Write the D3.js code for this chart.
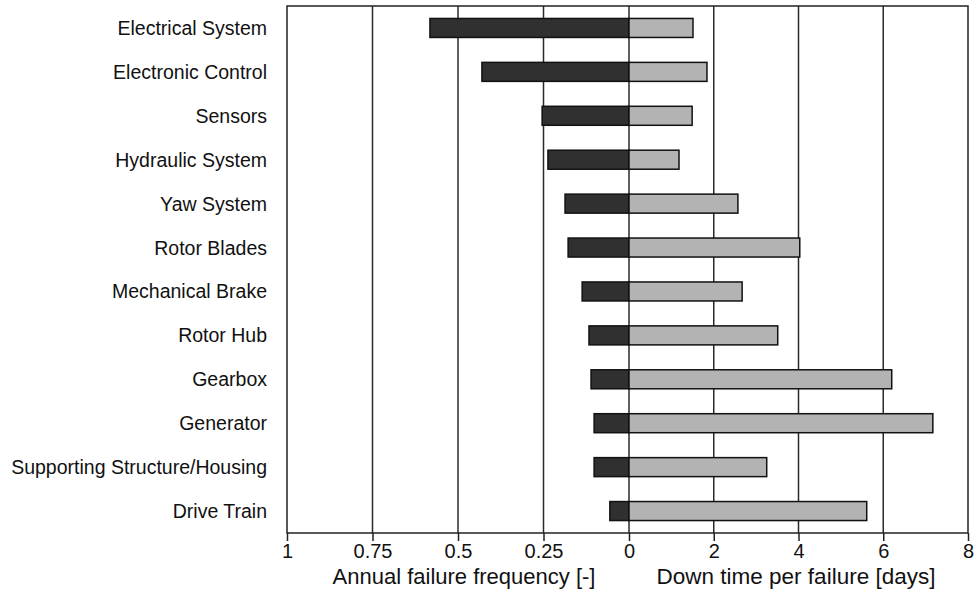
<!DOCTYPE html>
<html>
<head>
<meta charset="utf-8">
<script src="https://cdn.jsdelivr.net/npm/d3@7"></script>
<style>
  body { margin: 0; background: #fff; }
  text { font-family: "Liberation Sans", Arial, sans-serif; fill: #111; }
</style>
</head>
<body>
<svg width="975" height="595"></svg>
<script>
// components, top to bottom
let components = ['Electrical System', 'Electronic Control', 'Sensors', 'Hydraulic System',
    'Yaw System', 'Rotor Blades', 'Mechanical Brake', 'Rotor Hub', 'Gearbox', 'Generator',
    'Supporting Structure/Housing', 'Drive Train'];

// annual failure frequency [-]
let failFreq = [0.582, 0.430, 0.254, 0.237, 0.187, 0.178, 0.137, 0.117, 0.111, 0.102, 0.102, 0.056];

// down time per failure [days]
let downTime = [1.51, 1.84, 1.49, 1.18, 2.57, 4.03, 2.67, 3.51, 6.20, 7.17, 3.25, 5.61];

let freqTicks = [1, 0.75, 0.5, 0.25, 0];
let dayTicks = [2, 4, 6, 8];

let svg = d3.select('svg');

let frame = {l: 287, r: 968, t: 6, b: 533};
let mid = 629;

let freqScale = d3.scaleLinear().domain([1, 0]).range([frame.l, mid]);
let dayScale = d3.scaleLinear().domain([0, 8]).range([mid, frame.r]);
let yScale = d3.scaleBand().domain(components).range([frame.t, frame.b]);
let barH = 19;

// vertical grid lines
let gridX = freqTicks.slice(1).map(d => freqScale(d)).concat(dayTicks.slice(0, 3).map(d => dayScale(d)));
svg.selectAll('.grid').data(gridX).enter().append('line')
    .attr('x1', d => d).attr('x2', d => d)
    .attr('y1', frame.t).attr('y2', frame.b)
    .attr('stroke', '#2a2a2a').attr('stroke-width', 1.5);

// frequency bars (left, dark)
svg.selectAll('.freq').data(components).enter().append('rect')
    .attr('x', (d, i) => freqScale(failFreq[i]))
    .attr('y', d => yScale(d) + yScale.bandwidth() / 2 - barH / 2)
    .attr('width', (d, i) => mid - freqScale(failFreq[i]))
    .attr('height', barH)
    .attr('fill', '#303030').attr('stroke', '#111').attr('stroke-width', 1.5);

// down time bars (right, light)
svg.selectAll('.days').data(components).enter().append('rect')
    .attr('x', mid)
    .attr('y', d => yScale(d) + yScale.bandwidth() / 2 - barH / 2)
    .attr('width', (d, i) => dayScale(downTime[i]) - mid)
    .attr('height', barH)
    .attr('fill', '#b3b3b3').attr('stroke', '#111').attr('stroke-width', 1.5);

// frame
svg.append('rect')
    .attr('x', frame.l).attr('y', frame.t)
    .attr('width', frame.r - frame.l).attr('height', frame.b - frame.t)
    .attr('fill', 'none').attr('stroke', '#222').attr('stroke-width', 1.5);

// category labels
svg.selectAll('.lab').data(components).enter().append('text')
    .attr('x', 267)
    .attr('y', d => yScale(d) + yScale.bandwidth() / 2)
    .attr('dy', '0.36em')
    .attr('text-anchor', 'end')
    .style('font-size', '19.5px')
    .text(d => d);

// bottom axes
let fmt = d => d === 0 ? '0' : String(d);
let leftAxis = d3.axisBottom(freqScale).tickValues(freqTicks).tickSize(8).tickPadding(3).tickFormat(fmt);
let rightAxis = d3.axisBottom(dayScale).tickValues(dayTicks).tickSize(8).tickPadding(3);

[leftAxis, rightAxis].forEach(ax => {
    let g = svg.append('g').attr('transform', 'translate(0,' + frame.b + ')').call(ax);
    g.select('.domain').remove();
    g.selectAll('line').attr('stroke', '#222').attr('stroke-width', 1.5);
    g.selectAll('text').style('font-size', '20px').style('font-family', '"Liberation Sans", Arial, sans-serif').attr('fill', '#111');
});

svg.append('text').attr('x', 464).attr('y', 584).attr('text-anchor', 'middle')
    .style('font-size', '22px').text('Annual failure frequency [-]');
svg.append('text').attr('x', 796).attr('y', 584).attr('text-anchor', 'middle')
    .style('font-size', '22.5px').text('Down time per failure [days]');
</script>
</body>
</html>
